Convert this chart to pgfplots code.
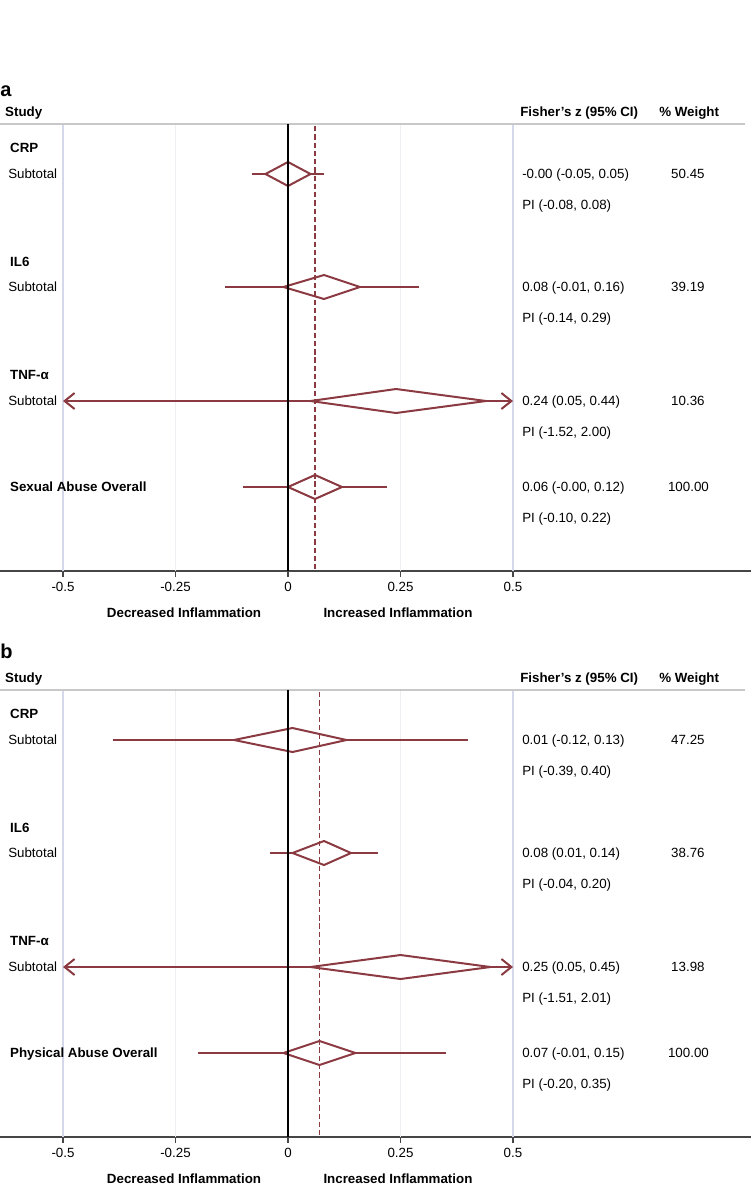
\documentclass[border=0pt]{standalone}
\usepackage{fontspec}
\setmainfont{Liberation Sans}
\setsansfont{Liberation Sans}
\usepackage{pgfplots}
\pgfplotsset{compat=1.18}
\usetikzlibrary{arrows.meta}

\definecolor{fp}{RGB}{139,58,66}
\definecolor{refl}{RGB}{212,216,234}
\definecolor{faint}{RGB}{238,238,242}
\definecolor{axgray}{RGB}{70,70,70}
\definecolor{hdr}{RGB}{200,200,200}

% 1 px of the reference = 0.75pt; y in px below the header rule (negative)
\pgfplotsset{
  forest/.style={
    width=563.25pt, height=335.25pt, scale only axis,
    xmin=-0.64, xmax=1.0289, ymin=-447, ymax=0,
    axis x line*=bottom, axis y line=none,
    x axis line style={axgray, line width=1.3pt},
    xtick={-0.5,-0.25,0,0.25,0.5},
    xticklabels={-0.5,-0.25,0,0.25,0.5},
    tick align=outside, major tick length=4.5pt,
    x tick style={axgray, line width=1.2pt},
    ytick=\empty,
    clip=false,
    ticklabel style={font=\fontsize{10}{12}\selectfont},
    /pgf/number format/assume math mode=true,
  },
  ci/.style={fp, line width=1.5pt},
  dia/.style={fp, line width=1.5pt, fill=white, line join=miter},
  pia/.style={fp, line width=1.5pt,
    {Straight Barb[length=7.5pt,width=12pt]}-{Straight Barb[length=7.5pt,width=12pt]}},
  refline/.style={fp, line width=1.05pt, dash pattern=on 4pt off 2.2pt},
}
\tikzset{
  lab/.style={anchor=west, inner sep=0pt, text height=7.2pt, text depth=0pt,
    font=\fontsize{10}{12}\selectfont},
  blab/.style={lab, font=\fontsize{10}{12}\selectfont\bfseries},
}

\begin{document}
\begin{tikzpicture}
\useasboundingbox (0,0) rectangle (563.25pt,-891.75pt);

% ---------------- panel a ----------------
\begin{axis}[forest, at={(0pt,-428.25pt)}, anchor=south west]
  \addplot[faint, line width=0.6pt] coordinates {(-0.25,0) (-0.25,-447)};
  \addplot[faint, line width=0.6pt] coordinates {(0.25,0) (0.25,-447)};
  \addplot[refl, line width=1pt] coordinates {(-0.5,0) (-0.5,-447)};
  \addplot[refl, line width=1pt] coordinates {(0.5,0) (0.5,-447)};
  \addplot[hdr, line width=1pt] coordinates {(-0.64,0) (1.0156,0)};

  % prediction intervals
  \addplot[ci] coordinates {(-0.08,-50) (0.08,-50)};
  \addplot[ci] coordinates {(-0.14,-163) (0.29,-163)};
  \addplot[pia] coordinates {(-0.5,-277) (0.5,-277)};
  \addplot[ci] coordinates {(-0.10,-363) (0.22,-363)};
  % pooled estimates (diamonds)
  \addplot[dia] coordinates {(-0.05,-50) (0.00,-38) (0.05,-50) (0.00,-62)} -- cycle;
  \addplot[dia] coordinates {(-0.01,-163) (0.08,-151) (0.16,-163) (0.08,-175)} -- cycle;
  \addplot[dia] coordinates {(0.05,-277) (0.24,-265) (0.44,-277) (0.24,-289)} -- cycle;
  \addplot[dia] coordinates {(-0.00,-363) (0.06,-351) (0.12,-363) (0.06,-375)} -- cycle;

  \addplot[black, line width=0.8pt] coordinates {(0,0) (0,-447)};
  \addplot[refline] coordinates {(0.06,-2) (0.06,-447)};

  \node[anchor=base west, inner sep=0pt, font=\fontsize{15}{18}\selectfont\bfseries] at (axis cs:-0.64,28) {a};
  \node[blab] at (axis cs:-0.629,12) {Study};
  \node[blab] at (axis cs:0.5156,12) {Fisher's z (95\% CI)};
  \node[blab] at (axis cs:0.8244,12) {\% Weight};

  \node[blab] at (axis cs:-0.618,-24) {CRP};
  \node[lab] at (axis cs:-0.6222,-50) {Subtotal};
  \node[lab] at (axis cs:0.52,-50) {-0.00 (-0.05, 0.05)};
  \node[lab] at (axis cs:0.851,-50) {50.45};
  \node[lab] at (axis cs:0.52,-81) {PI (-0.08, 0.08)};

  \node[blab] at (axis cs:-0.618,-138) {IL6};
  \node[lab] at (axis cs:-0.6222,-163) {Subtotal};
  \node[lab] at (axis cs:0.52,-163) {0.08 (-0.01, 0.16)};
  \node[lab] at (axis cs:0.851,-163) {39.19};
  \node[lab] at (axis cs:0.52,-194) {PI (-0.14, 0.29)};

  \node[blab] at (axis cs:-0.618,-251) {TNF-α};
  \node[lab] at (axis cs:-0.6222,-277) {Subtotal};
  \node[lab] at (axis cs:0.52,-277) {0.24 (0.05, 0.44)};
  \node[lab] at (axis cs:0.851,-277) {10.36};
  \node[lab] at (axis cs:0.52,-308) {PI (-1.52, 2.00)};

  \node[blab] at (axis cs:-0.618,-363) {Sexual Abuse Overall};
  \node[lab] at (axis cs:0.52,-363) {0.06 (-0.00, 0.12)};
  \node[lab] at (axis cs:0.844,-363) {100.00};
  \node[lab] at (axis cs:0.52,-394) {PI (-0.10, 0.22)};

  \node[blab, anchor=center] at (axis cs:-0.231,-489) {Decreased Inflammation};
  \node[blab, anchor=center] at (axis cs:0.2444,-489) {Increased Inflammation};
\end{axis}

% ---------------- panel b ----------------
\begin{axis}[forest, at={(0pt,-852.75pt)}, anchor=south west]
  \addplot[faint, line width=0.6pt] coordinates {(-0.25,0) (-0.25,-447)};
  \addplot[faint, line width=0.6pt] coordinates {(0.25,0) (0.25,-447)};
  \addplot[refl, line width=1pt] coordinates {(-0.5,0) (-0.5,-447)};
  \addplot[refl, line width=1pt] coordinates {(0.5,0) (0.5,-447)};
  \addplot[hdr, line width=1pt] coordinates {(-0.64,0) (1.0156,0)};

  \addplot[ci] coordinates {(-0.39,-50) (0.40,-50)};
  \addplot[ci] coordinates {(-0.04,-163) (0.20,-163)};
  \addplot[pia] coordinates {(-0.5,-277) (0.5,-277)};
  \addplot[ci] coordinates {(-0.20,-363) (0.35,-363)};
  \addplot[dia] coordinates {(-0.12,-50) (0.01,-38) (0.13,-50) (0.01,-62)} -- cycle;
  \addplot[dia] coordinates {(0.01,-163) (0.08,-151) (0.14,-163) (0.08,-175)} -- cycle;
  \addplot[dia] coordinates {(0.05,-277) (0.25,-265) (0.45,-277) (0.25,-289)} -- cycle;
  \addplot[dia] coordinates {(-0.01,-363) (0.07,-351) (0.15,-363) (0.07,-375)} -- cycle;

  \addplot[black, line width=0.8pt] coordinates {(0,0) (0,-447)};
  \addplot[refline] coordinates {(0.07,-2) (0.07,-447)};

  \node[anchor=base west, inner sep=0pt, font=\fontsize{15}{18}\selectfont\bfseries] at (axis cs:-0.64,32) {b};
  \node[blab] at (axis cs:-0.629,12) {Study};
  \node[blab] at (axis cs:0.5156,12) {Fisher's z (95\% CI)};
  \node[blab] at (axis cs:0.8244,12) {\% Weight};

  \node[blab] at (axis cs:-0.618,-24) {CRP};
  \node[lab] at (axis cs:-0.6222,-50) {Subtotal};
  \node[lab] at (axis cs:0.52,-50) {0.01 (-0.12, 0.13)};
  \node[lab] at (axis cs:0.851,-50) {47.25};
  \node[lab] at (axis cs:0.52,-81) {PI (-0.39, 0.40)};

  \node[blab] at (axis cs:-0.618,-138) {IL6};
  \node[lab] at (axis cs:-0.6222,-163) {Subtotal};
  \node[lab] at (axis cs:0.52,-163) {0.08 (0.01, 0.14)};
  \node[lab] at (axis cs:0.851,-163) {38.76};
  \node[lab] at (axis cs:0.52,-194) {PI (-0.04, 0.20)};

  \node[blab] at (axis cs:-0.618,-251) {TNF-α};
  \node[lab] at (axis cs:-0.6222,-277) {Subtotal};
  \node[lab] at (axis cs:0.52,-277) {0.25 (0.05, 0.45)};
  \node[lab] at (axis cs:0.851,-277) {13.98};
  \node[lab] at (axis cs:0.52,-308) {PI (-1.51, 2.01)};

  \node[blab] at (axis cs:-0.618,-363) {Physical Abuse Overall};
  \node[lab] at (axis cs:0.52,-363) {0.07 (-0.01, 0.15)};
  \node[lab] at (axis cs:0.844,-363) {100.00};
  \node[lab] at (axis cs:0.52,-394) {PI (-0.20, 0.35)};

  \node[blab, anchor=center] at (axis cs:-0.231,-489) {Decreased Inflammation};
  \node[blab, anchor=center] at (axis cs:0.2444,-489) {Increased Inflammation};
\end{axis}
\end{tikzpicture}
\end{document}
